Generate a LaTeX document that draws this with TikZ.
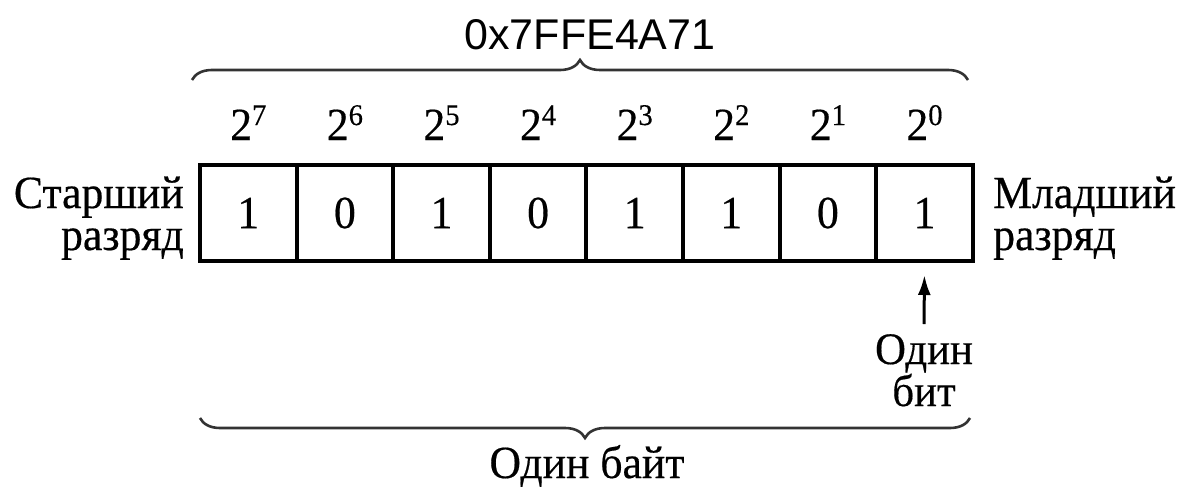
\documentclass[tikz,border=0pt]{standalone}
\usepackage{fontspec}
\setmainfont{Liberation Serif}[FakeStretch=0.95,FakeBold=0.4]
\newfontfamily\hexfont{Liberation Sans}
\usetikzlibrary{arrows.meta,decorations.pathreplacing}
\newcommand{\pw}[1]{2\raisebox{15pt}{\fontsize{30}{30}\selectfont #1}}
\begin{document}
\begin{tikzpicture}[x=1pt,y=1pt,
  cell/.style={draw=black,line width=4pt,minimum width=96.6pt,minimum height=96pt,inner sep=0pt,font=\fontsize{46}{46}\selectfont},
  pow/.style={anchor=base,inner sep=0pt,font=\fontsize{46}{46}\selectfont},
  lbl/.style={inner sep=0pt,font=\fontsize{46}{46}\selectfont},
  bitlbl/.style={inner sep=0pt,anchor=base,font=\fontsize{45}{45}\selectfont},
  brc/.style={draw=black!80,line width=2.6pt,decorate,decoration={brace,amplitude=20pt}}]
\path[use as bounding box,fill=white] (0,0) rectangle (1180,-492);
% hex label
\node[anchor=base,inner sep=0pt,font=\hexfont\fontsize{43}{43}\selectfont] (hex) at (590,-50) {0x7FFE4A71};
% top brace
\coordinate (tl) at (192,-80);
\coordinate (tr) at (968,-80);
\draw[brc] (tl) -- (tr);
% cells
\foreach \v [count=\i] in {1,0,1,0,1,1,0,1}{
  \node[cell] (c\i) at ({200+96.6*(\i-0.5)},-213) {\v};
}
% powers
\foreach \p [count=\i] in {7,6,5,4,3,2,1,0}{
  \node[pow] (p\i) at ({200+96.6*(\i-0.5)},-140) {\pw{\p}};
}
% side labels
\node[lbl,anchor=base east] (ls1) at (184,-208) {Старший};
\node[lbl,anchor=base east] (ls2) at (184,-250) {разряд};
\node[lbl,anchor=base west] (rs1) at (993,-208) {Младший};
\node[lbl,anchor=base west] (rs2) at (993,-250) {разряд};
% one bit
\node[bitlbl] (b1) at (924,-364) {Один};
\node[bitlbl] (b2) at (924,-406) {бит};
\draw[line width=3pt,-{Latex[length=20pt,width=13pt]},shorten >=12pt,shorten <=10pt] (b1.north) -- (c8.south);
% bottom brace
\coordinate (bl) at (200,-418);
\coordinate (br) at (970,-418);
\draw[brc] (br) -- (bl);
\node[lbl,anchor=base] (byte) at (587,-478) {Один байт};
\end{tikzpicture}
\end{document}
